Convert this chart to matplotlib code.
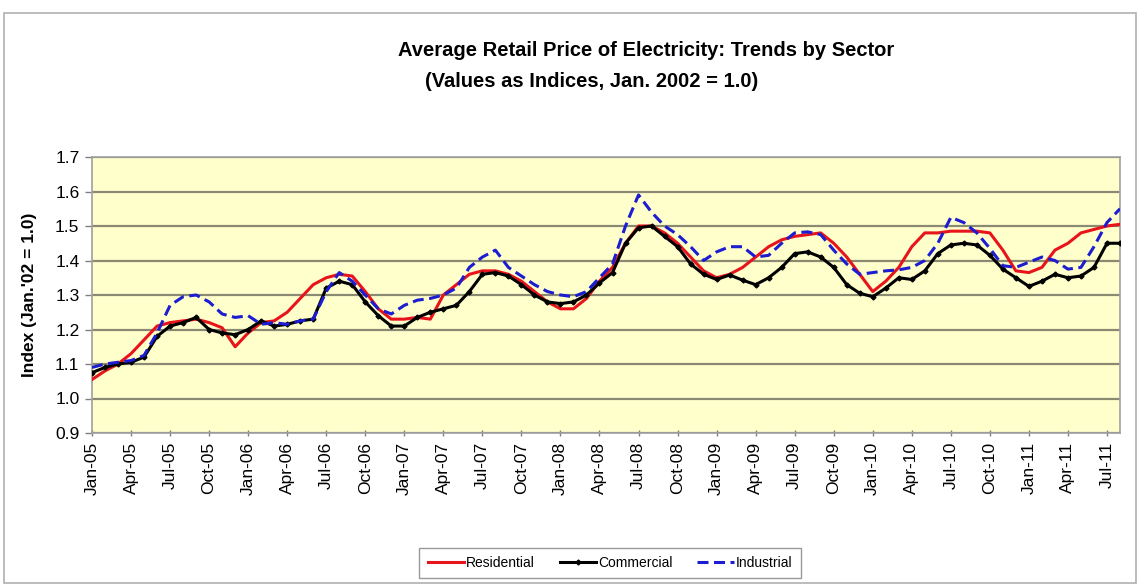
import matplotlib
matplotlib.use("Agg")
import matplotlib.pyplot as plt
from matplotlib.patches import Rectangle
from matplotlib import font_manager as fm
import numpy as np

months = ["Jan", "Feb", "Mar", "Apr", "May", "Jun", "Jul", "Aug", "Sep", "Oct", "Nov", "Dec"]
periods = [f"{m}-{y:02d}" for y in range(5, 12) for m in months][:80]  # Jan-05 .. Aug-11

residential = [1.055, 1.08, 1.10, 1.13, 1.17, 1.21, 1.22, 1.225, 1.23, 1.22, 1.205, 1.15,
               1.19, 1.22, 1.225, 1.25, 1.29, 1.33, 1.35, 1.36, 1.355, 1.31, 1.26, 1.23,
               1.23, 1.235, 1.23, 1.30, 1.33, 1.36, 1.37, 1.37, 1.36, 1.34, 1.31, 1.28,
               1.26, 1.26, 1.29, 1.34, 1.38, 1.45, 1.50, 1.50, 1.48, 1.45, 1.41, 1.37,
               1.35, 1.36, 1.38, 1.41, 1.44, 1.46, 1.47, 1.475, 1.48, 1.45, 1.41, 1.36,
               1.31, 1.34, 1.38, 1.44, 1.48, 1.48, 1.485, 1.485, 1.485, 1.48, 1.43, 1.37,
               1.365, 1.38, 1.43, 1.45, 1.48, 1.49, 1.50, 1.505]
commercial = [1.075, 1.09, 1.10, 1.105, 1.12, 1.18, 1.21, 1.22, 1.235, 1.20, 1.19, 1.185,
              1.20, 1.225, 1.21, 1.215, 1.225, 1.23, 1.32, 1.34, 1.33, 1.28, 1.24, 1.21,
              1.21, 1.235, 1.25, 1.26, 1.27, 1.31, 1.36, 1.365, 1.355, 1.33, 1.30, 1.28,
              1.275, 1.28, 1.30, 1.335, 1.365, 1.45, 1.495, 1.50, 1.47, 1.44, 1.39, 1.36,
              1.345, 1.358, 1.343, 1.33, 1.35, 1.38, 1.42, 1.425, 1.41, 1.38, 1.33, 1.305,
              1.295, 1.32, 1.35, 1.345, 1.37, 1.42, 1.445, 1.45, 1.445, 1.415, 1.375, 1.35,
              1.325, 1.34, 1.36, 1.35, 1.355, 1.38, 1.45, 1.45]
industrial = [1.09, 1.10, 1.105, 1.11, 1.125, 1.19, 1.27, 1.295, 1.30, 1.28, 1.245, 1.235,
              1.24, 1.215, 1.22, 1.215, 1.225, 1.23, 1.31, 1.365, 1.34, 1.30, 1.26, 1.245,
              1.27, 1.285, 1.29, 1.30, 1.32, 1.38, 1.41, 1.43, 1.38, 1.355, 1.33, 1.31,
              1.30, 1.295, 1.31, 1.35, 1.39, 1.50, 1.59, 1.54, 1.50, 1.475, 1.44, 1.40,
              1.425, 1.44, 1.44, 1.41, 1.415, 1.45, 1.48, 1.483, 1.475, 1.43, 1.39, 1.36,
              1.365, 1.37, 1.373, 1.38, 1.40, 1.45, 1.525, 1.51, 1.48, 1.435, 1.385, 1.38,
              1.395, 1.41, 1.40, 1.375, 1.38, 1.44, 1.51, 1.55]

title1 = "Average Retail Price of Electricity: Trends by Sector"
title2 = "(Values as Indices, Jan. 2002 = 1.0)"
ylabel = "Index (Jan.'02 = 1.0)"
yticks = [0.9, 1.0, 1.1, 1.2, 1.3, 1.4, 1.5, 1.6, 1.7]

names = {f.name for f in fm.fontManager.ttflist}
narrow = "Liberation Sans Narrow" if "Liberation Sans Narrow" in names else "Liberation Sans"
regular = "Liberation Sans"

W, H = 1141, 584
fig = plt.figure(figsize=(W / 100, H / 100), dpi=100)
fig.patch.set_facecolor("white")
fig.add_artist(Rectangle((4 / W, 0.002), (1136 - 4) / W, (H - 13) / H - 0.002,
                         transform=fig.transFigure, fill=False, edgecolor="#b0b0b0", lw=1.2))

ax = fig.add_axes([92 / W, 1 - 433 / H, (1120 - 92) / W, (433 - 157) / H])
ax.set_facecolor("#ffffcc")
x = np.arange(len(periods))

ax.plot(x, residential, color="#e8141b", lw=2.2, label="Residential", zorder=3)
ax.plot(x, commercial, color="black", lw=2.2, marker="D", ms=2.5, label="Commercial", zorder=4)
ax.plot(x, industrial, color="#1c1cd0", lw=2.2, ls=(0, (3.6, 1.8)), label="Industrial", zorder=5)

ax.set_xlim(0, len(periods) - 1)
ax.set_ylim(0.9, 1.7)
ax.set_yticks(yticks)
ax.set_yticklabels([f"{v:.1f}" for v in yticks], fontsize=12.5, family=regular)
ax.yaxis.grid(True, color="#8a8a72", lw=1.6)
ax.set_axisbelow(True)
xt = list(range(0, len(periods), 3))
ax.set_xticks(xt)
ax.set_xticklabels([periods[i] for i in xt], rotation=90, fontsize=12.5, family=regular)
ax.tick_params(axis="x", length=5, width=1, color="#808080", direction="inout", pad=4)
ax.tick_params(axis="y", length=5, width=1, color="#808080", direction="out", pad=4)
for s in ax.spines.values():
    s.set_color("#a0a0a0")
    s.set_linewidth(1.2)

fig.text(30 / W, 1 - 295 / H, ylabel, rotation=90, ha="center", va="center",
         fontsize=12.5, fontweight="bold", family=regular)
fig.text(646 / W, 1 - 50 / H, title1, ha="center", va="center", fontsize=14.5,
         fontweight="bold", family=narrow)
fig.text(592 / W, 1 - 81 / H, title2, ha="center", va="center", fontsize=14.5,
         fontweight="bold", family=narrow)

leg = ax.legend(loc="center", bbox_to_anchor=(610 / W, 1 - 563 / H),
                bbox_transform=fig.transFigure, ncol=3, frameon=True, fancybox=False,
                handlelength=2.6, columnspacing=1.8, handletextpad=0.15,
                borderpad=0.6, prop={"family": narrow, "size": 10})
leg.get_frame().set_edgecolor("#808080")
leg.get_frame().set_linewidth(1.0)

fig.savefig("out.png", dpi=100, facecolor="white")
